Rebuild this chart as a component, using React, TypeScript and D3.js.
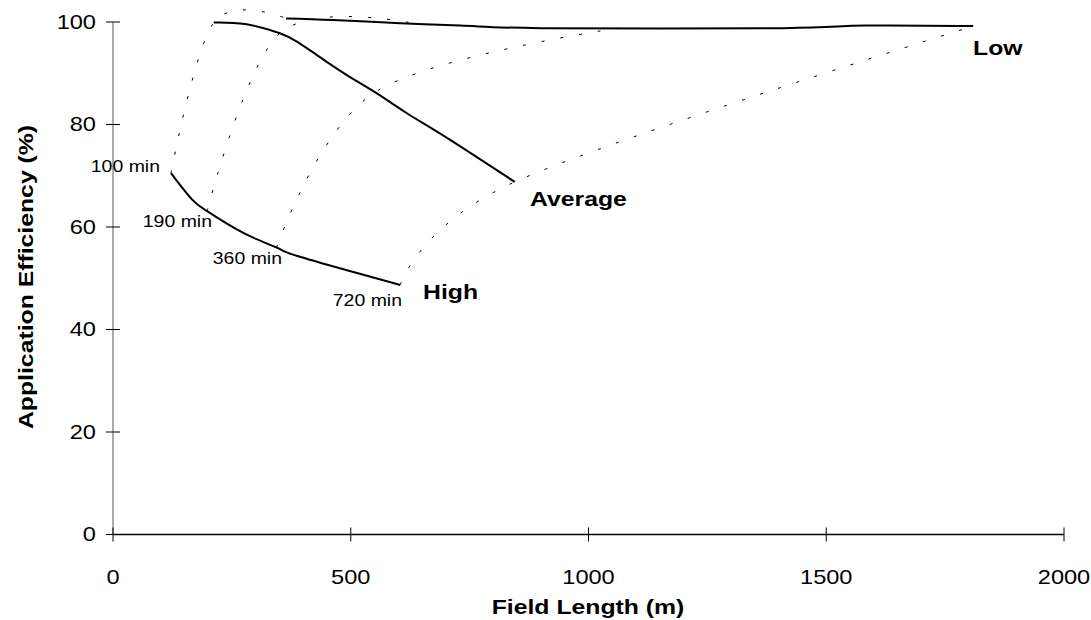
import { useEffect, useRef } from 'react'
import * as d3 from 'd3'

// solid curves: field length (m) vs application efficiency (%)
const highLength = [122, 166, 198, 273, 344, 393, 604]
const highEff = [70.5, 65.4, 63.1, 58.9, 56.0, 54.2, 48.7]

const avgLength = [212, 278, 351, 393, 442, 491, 551, 618, 709, 845]
const avgEff = [99.9, 99.6, 97.8, 95.8, 92.7, 89.7, 86.3, 82.2, 77.0, 68.8]

const lowLength = [364, 463, 604, 730, 900, 1409, 1584, 1809]
const lowEff = [100.7, 100.4, 99.75, 99.3, 98.8, 98.8, 99.3, 99.2]

// dotted isochrones: points on High, Average, Low for each advance time
const timeLabels = ['100 min', '190 min', '360 min', '720 min']
const isoLength = [
  [122, 212, 364],
  [198, 351, 640],
  [344, 551, 1062],
  [604, 845, 1809],
]
const isoEff = [
  [70.5, 99.9, 100.7],
  [63.1, 97.8, 99.6],
  [56.0, 86.3, 98.8],
  [48.7, 68.8, 99.2],
]

const seriesNames = ['High', 'Average', 'Low']
const xTicks = [0, 500, 1000, 1500, 2000]
const yTicks = [0, 20, 40, 60, 80, 100]

const FONT = '"Liberation Sans", Arial, sans-serif'
const SX = 1.18 // the original chart's text is stretched a little

export default function App() {
  const svgRef = useRef<SVGSVGElement>(null)

  useEffect(() => {
    if (!svgRef.current) return
    const svg = d3.select(svgRef.current)
    svg.selectAll('*').remove()

    const x = d3.scaleLinear().domain([0, 2000]).range([113, 1064])
    const y = d3.scaleLinear().domain([0, 100]).range([534.5, 22])

    const line = d3.line<[number, number]>()
      .x(d => x(d[0])).y(d => y(d[1]))
      .curve(d3.curveCardinal.tension(0))

    const label = (tx: number, ty: number, txt: string | number, size: number,
      anchor: string, bold = false, rot = 0) => {
      svg.append('g').attr('transform', `translate(${tx},${ty}) rotate(${rot}) scale(${SX},1)`)
        .append('text')
        .attr('text-anchor', anchor).attr('dominant-baseline', 'central')
        .attr('font-size', size).attr('font-family', FONT)
        .attr('font-weight', bold ? 'bold' : 'normal')
        .text(txt)
    }

    // axes
    svg.append('line').attr('x1', x(0)).attr('x2', x(0)).attr('y1', y(100)).attr('y2', y(0))
      .attr('stroke', '#808080').attr('stroke-width', 1.3)
    svg.append('line').attr('x1', x(0)).attr('x2', x(2000)).attr('y1', y(0)).attr('y2', y(0))
      .attr('stroke', '#000').attr('stroke-width', 1.3)

    yTicks.forEach(t => {
      svg.append('line').attr('x1', x(0) - 7).attr('x2', x(0) + 7)
        .attr('y1', y(t)).attr('y2', y(t)).attr('stroke', '#000')
      label(96, y(t), t, 20, 'end')
    })
    xTicks.forEach(t => {
      svg.append('line').attr('x1', x(t)).attr('x2', x(t))
        .attr('y1', y(0) - 7).attr('y2', y(0) + 7).attr('stroke', '#000')
      label(x(t), 577, t, 20, 'middle')
    })

    label(588, 607, 'Field Length (m)', 21, 'middle', true)
    label(26, 277, 'Application Efficiency (%)', 21, 'middle', true, -90)

    // dotted isochrones
    isoLength.forEach((xs, i) => {
      const pts = xs.map((v, j) => [v, isoEff[i][j]] as [number, number])
      svg.append('path').attr('d', line(pts))
        .attr('fill', 'none').attr('stroke', '#000').attr('stroke-width', 1)
        .attr('stroke-dasharray', '3 16')
    })

    // solid curves
    const solids: [number[], number[]][] = [
      [highLength, highEff], [avgLength, avgEff], [lowLength, lowEff],
    ]
    solids.forEach(([xs, ys]) => {
      const pts = xs.map((v, j) => [v, ys[j]] as [number, number])
      svg.append('path').attr('d', line(pts))
        .attr('fill', 'none').attr('stroke', '#000').attr('stroke-width', 2)
    })

    // time labels next to the High curve
    const timePos = [[160, 167], [212, 222], [282, 259], [402, 301]]
    timeLabels.forEach((t, i) => label(timePos[i][0], timePos[i][1], t, 16.5, 'end'))

    // series labels
    const namePos = [[423, 292], [530, 199], [973, 48]]
    seriesNames.forEach((n, i) => label(namePos[i][0], namePos[i][1], n, 21, 'start', true))
  }, [])

  return (
    <div style={{ position: 'absolute', left: 0, top: 0 }}>
      <svg ref={svgRef} width={1091} height={620} style={{ display: 'block', background: '#fff' }} />
    </div>
  )
}
